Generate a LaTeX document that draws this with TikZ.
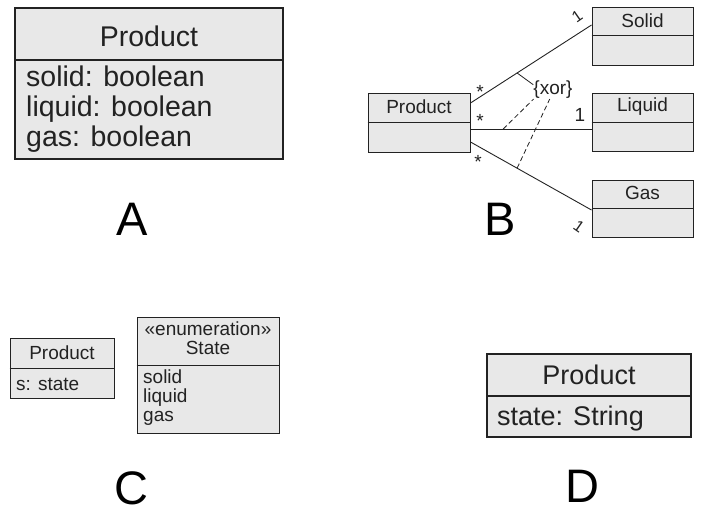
\documentclass[tikz,border=0pt]{standalone}
\usepackage{fontspec}
\setmainfont{Liberation Sans}
\usepackage{tikz}
\usetikzlibrary{positioning}

\definecolor{boxgray}{HTML}{E8E8E8}
\definecolor{inkgray}{HTML}{222222}

\begin{document}
\begin{tikzpicture}[x=1pt, y=-1pt,
                classbox/.style={rectangle, draw=inkgray, line width=1.4pt, fill=boxgray, inner sep=0pt},
                smallbox/.style={rectangle, draw=inkgray, line width=1pt, fill=boxgray, inner sep=0pt},
                big/.style={font=\fontsize{28.5}{30}\selectfont, text=inkgray, inner sep=0pt},
                small/.style={font=\fontsize{19}{19}\selectfont, text=inkgray, inner sep=0pt},
                letter/.style={font=\fontsize{47}{47}\selectfont, inner sep=0pt},
                assoc/.style={draw=inkgray, line width=0.9pt}
            ]
                \useasboundingbox (0,0) rectangle (703,517);

                % A
                \node[classbox, minimum width=268pt, minimum height=151pt] (aprod) at (149,83.5) {};
                \draw[classbox] (aprod.west |- 0,60) -- (aprod.east |- 0,60);
                \node[big] (aname) at (149,36) {Product};
                \node[big, align=left, anchor=north west] (aattr) at (26,66) {solid: boolean\\liquid: boolean\\gas: boolean};
                \node[letter] (la) at (132,219) {A};

                % B
                \node[smallbox, minimum width=102pt, minimum height=59pt] (bprod) at (419,122.5) {};
                \node[smallbox, minimum width=101pt, minimum height=58pt] (solid) at (642.5,36) {};
                \node[smallbox, minimum width=101pt, minimum height=58pt] (liquid) at (642.5,122) {};
                \node[smallbox, minimum width=101pt, minimum height=57pt] (gas) at (642.5,208.5) {};
                \draw[smallbox] (bprod.west |- 0,122) -- (bprod.east |- 0,122);
                \draw[smallbox] (solid.west |- 0,35) -- (solid.east |- 0,35);
                \draw[smallbox] (liquid.west |- 0,122) -- (liquid.east |- 0,122);
                \draw[smallbox] (gas.west |- 0,208) -- (gas.east |- 0,208);
                \node[small] (bname) at (419,107) {Product};
                \node[small] at (642.5,21) {Solid};
                \node[small] at (642.5,107) {Liquid};
                \node[small] at (642.5,193) {Gas};

                \draw[assoc] ([yshift=19.5pt]bprod.east) -- coordinate[pos=0.385] (ps) ([yshift=11pt]solid.west);
                \draw[assoc] ([yshift=-6.5pt]bprod.east) -- coordinate[pos=0.27] (pl) ([yshift=-7pt]liquid.west);
                \draw[assoc] ([yshift=-19.5pt]bprod.east) -- coordinate[pos=0.385] (pg) ([yshift=-1.5pt]gas.west);

                \node[small] (xor) at (553,90) {\{xor\}};
                \draw[assoc, line width=0.8pt] (ps) -- (xor.165);
                \draw[assoc, line width=0.8pt, dash pattern=on 5pt off 3pt] (pl) -- (xor.205);
                \draw[assoc, line width=0.8pt, dash pattern=on 5pt off 3pt] (pg) -- (xor.250);

                \node[small] (m1) at (480,92) {*};
                \node[small] (m2) at (480,121) {*};
                \node[small] (m3) at (478,162) {*};
                \node[small] (n1) at (580,115) {1};
                \node[small, font=\fontsize{16}{16}\selectfont, rotate=35] (n2) at (577,16) {1};
                \node[small, font=\fontsize{16}{16}\selectfont, rotate=-35] (n3) at (579,227) {1};
                \node[letter] (lb) at (500,219) {B};

                % C
                \node[smallbox, minimum width=104pt, minimum height=60pt] (cprod) at (62,368) {};
                \draw[smallbox] (cprod.west |- 0,368) -- (cprod.east |- 0,368);
                \node[small] (cname) at (62,353) {Product};
                \node[small, anchor=base west] (cattr) at (16,390) {s: state};
                \node[smallbox, minimum width=142pt, minimum height=116pt] (state) at (208,375) {};
                \draw[smallbox] (state.west |- 0,365) -- (state.east |- 0,365);
                \node[small, align=center, anchor=north] (sname) at (208,322) {«enumeration»\\State};
                \node[small, align=left, anchor=north west] (sattr) at (143,370) {solid\\liquid\\gas};
                \node[letter] (lc) at (131,488) {C};

                % D
                \node[classbox, minimum width=204pt, minimum height=83pt] (dprod) at (589,395.5) {};
                \draw[classbox] (dprod.west |- 0,396) -- (dprod.east |- 0,396);
                \node[big, font=\fontsize{27}{28}\selectfont] (dname) at (589,375) {Product};
                \node[big, font=\fontsize{27}{28}\selectfont, anchor=base west] (dattr) at (497,425) {state: String};
                \node[letter] (ld) at (582,486) {D};
            \end{tikzpicture}
\end{document}
